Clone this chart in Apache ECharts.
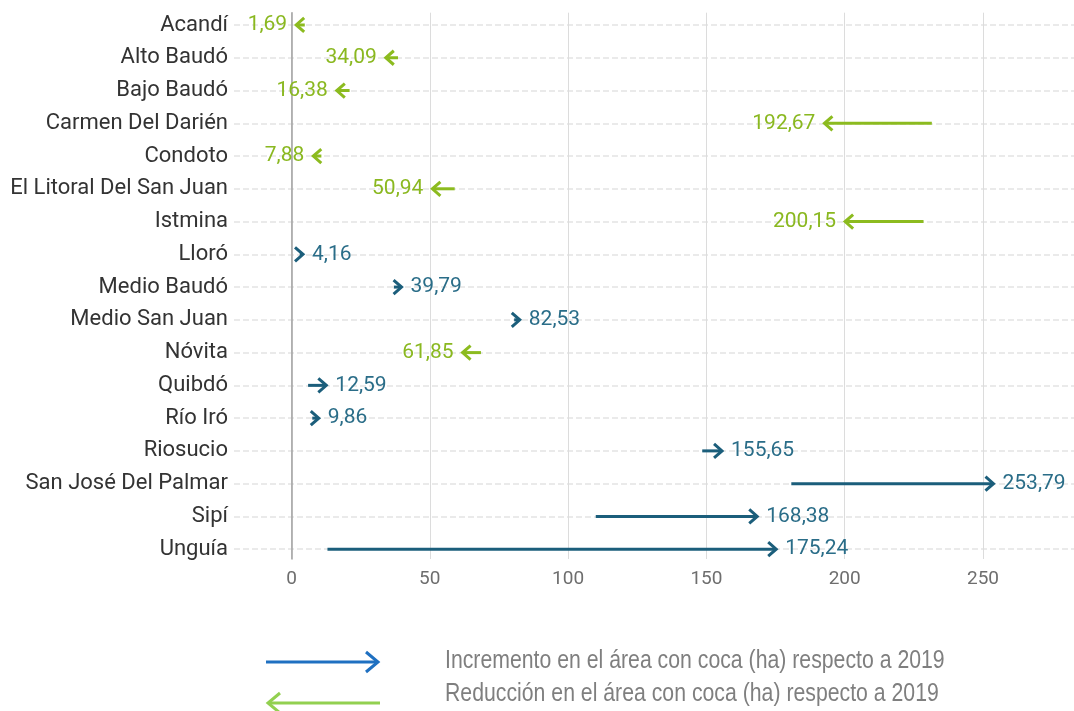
<!DOCTYPE html>
<html><head><meta charset="utf-8">
<script src="https://cdn.jsdelivr.net/npm/echarts@6/dist/echarts.min.js"></script>
<style>html,body{margin:0;padding:0;background:#fff}#c{width:1074px;height:711px}</style>
</head><body><div id="c"></div>
<script>
const categories = ['Acandí','Alto Baudó','Bajo Baudó','Carmen Del Darién','Condoto','El Litoral Del San Juan','Istmina','Lloró','Medio Baudó','Medio San Juan','Nóvita','Quibdó','Río Iró','Riosucio','San José Del Palmar','Sipí','Unguía'];
const start2019 = [4.8, 38.5, 21, 231.5, 10.8, 59, 228.5, 3, 37, 80.5, 68.5, 6, 7.5, 148.5, 180.7, 110, 13];
const end2020 = [1.69, 34.09, 16.38, 192.67, 7.88, 50.94, 200.15, 4.16, 39.79, 82.53, 61.85, 12.59, 9.86, 155.65, 253.79, 168.38, 175.24];
const xTicks = [0, 50, 100, 150, 200, 250];
const legendLabels = ['Incremento en el área con coca (ha) respecto a 2019', 'Reducción en el área con coca (ha) respecto a 2019'];

const BLUE = '#1b5e7b', BLUE_TXT = '#2a6d88', GREEN = '#8cbb1f', GREEN_TXT = '#8ab820';
const chart = echarts.init(document.getElementById('c'));
const data = categories.map((c, i) => [start2019[i], end2020[i], i]);

function renderItem(params, api) {
  const s = api.value(0), e = api.value(1), ci = api.value(2);
  const p0 = api.coord([s, ci]), p1 = api.coord([e, ci]);
  const dir = e >= s ? 1 : -1;
  const col = dir > 0 ? BLUE : GREEN, tcol = dir > 0 ? BLUE_TXT : GREEN_TXT;
  const y = p1[1], hl = 8, hw = 7;
  const txt = e.toFixed(2).replace('.', ',');
  return {
    type: 'group', children: [
      { type: 'line', shape: { x1: p0[0], y1: y, x2: p1[0] - dir * 1, y2: y }, style: { stroke: col, lineWidth: 3 } },
      { type: 'polyline', shape: { points: [[p1[0] - dir * hl, y - hw], [p1[0], y], [p1[0] - dir * hl, y + hw]] }, style: { stroke: col, lineWidth: 3, fill: null } },
      { type: 'text', x: p1[0] + dir * 9, y: y, style: { text: txt, fill: tcol, font: '21px Roboto', align: dir > 0 ? 'left' : 'right', verticalAlign: 'middle' } }
    ]
  };
}

const option = {
  animation: false,
  grid: [
    { left: 234, right: 0, top: 25, bottom: 162 },
    { left: 291.5, right: 91, top: 12.7, bottom: 152 }
  ],
  xAxis: [
    { gridIndex: 0, type: 'value', show: false, min: 0, max: 1 },
    { gridIndex: 1, type: 'value', min: 0, max: 250, interval: 50,
      axisLine: { show: false }, axisTick: { show: false },
      splitLine: { lineStyle: { color: '#dcdcdc', width: 1 } },
      axisLabel: { color: '#6e6e6e', fontSize: 19, fontFamily: 'Roboto', margin: 11,
        formatter: v => xTicks.includes(v) ? String(v) : '' } }
  ],
  yAxis: [
    { gridIndex: 0, type: 'category', data: categories, inverse: true, boundaryGap: false,
      axisLine: { show: false }, axisTick: { show: false },
      axisLabel: { color: '#333', fontSize: 22, fontFamily: 'Roboto', margin: 6 },
      splitLine: { show: true, lineStyle: { color: '#e3e3e3', type: [6, 3], width: 1.5 } } },
    { gridIndex: 1, type: 'value', inverse: true, min: -0.375, max: 16.3,
      axisLine: { show: true, onZero: false, lineStyle: { color: '#a0a0a0', width: 1.5 } }, axisTick: { show: false },
      axisLabel: { show: false }, splitLine: { show: false } }
  ],
  series: [{ type: 'custom', xAxisIndex: 1, yAxisIndex: 1, clip: false, data: data, encode: { x: [0, 1], y: 2 }, renderItem: renderItem }],
  graphic: [
    { type: 'line', shape: { x1: 266, y1: 662, x2: 377, y2: 662 }, style: { stroke: '#1f70c1', lineWidth: 3 } },
    { type: 'polyline', shape: { points: [[366, 652], [378, 662], [366, 672]] }, style: { stroke: '#1f70c1', lineWidth: 3, fill: null } },
    { type: 'text', x: 445, y: 661, scaleX: 0.85, style: { text: legendLabels[0], fill: '#7f7f7f', font: '25px "Liberation Sans"', verticalAlign: 'middle' } },
    { type: 'line', shape: { x1: 269, y1: 703, x2: 380, y2: 703 }, style: { stroke: '#92d050', lineWidth: 3 } },
    { type: 'polyline', shape: { points: [[280, 693], [268, 703], [280, 713]] }, style: { stroke: '#92d050', lineWidth: 3, fill: null } },
    { type: 'text', x: 445, y: 694, scaleX: 0.85, style: { text: legendLabels[1], fill: '#7f7f7f', font: '25px "Liberation Sans"', verticalAlign: 'middle' } }
  ]
};
chart.setOption(option);
</script></body></html>
